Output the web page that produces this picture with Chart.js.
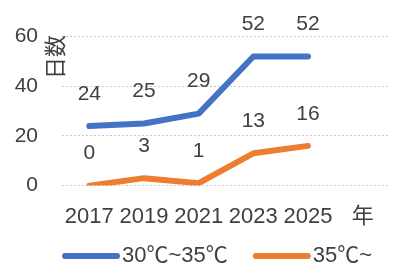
<!DOCTYPE html>
<html>
<head>
<meta charset="utf-8">
<script src="https://cdn.jsdelivr.net/npm/chart.js@4"></script>
<style>
  html, body { margin: 0; padding: 0; background: #fff; }
  #wrap { width: 393px; height: 278px; }
</style>
</head>
<body>
<div id="wrap"><canvas id="heatChart" width="393" height="278"></canvas></div>
<script>
// categories (last slot holds the axis unit)
const years = ['2017', '2019', '2021', '2023', '2025', '年'];
const days30to35 = [24, 25, 29, 52, 52, null];
const days35plus = [0, 3, 1, 13, 16, null];
const yTicks = [0, 20, 40, 60];
const seriesNames = ['30℃~35℃', '35℃~'];
const yTitle = '日数';

const textColor = '#404040';
const fontFamily = "'Liberation Sans', 'Noto Sans CJK JP', sans-serif";

// value labels above points, rotated y title, legend under the axis
const labelPlugin = {
    id: 'valueLabels',
    afterDatasetsDraw(chart) {
        const ctx = chart.ctx;
        ctx.save();
        ctx.fillStyle = textColor;
        ctx.font = '21px ' + fontFamily;
        ctx.textAlign = 'center';
        ctx.textBaseline = 'middle';
        chart.data.datasets.forEach((ds, i) => {
            const meta = chart.getDatasetMeta(i);
            meta.data.forEach((pt, j) => {
                if (ds.data[j] === null) return;
                ctx.fillText(String(ds.data[j]), pt.x, pt.y - 32);
            });
        });
        ctx.restore();

        // y axis title
        ctx.save();
        ctx.fillStyle = textColor;
        ctx.font = "22px 'Noto Sans CJK JP', sans-serif";
        ctx.textAlign = 'center';
        ctx.textBaseline = 'middle';
        ctx.translate(55, 57);
        ctx.rotate(-Math.PI / 2);
        ctx.fillText(yTitle, 0, 0);
        ctx.restore();

        // legend
        ctx.save();
        ctx.font = '22px ' + fontFamily;
        ctx.textBaseline = 'middle';
        ctx.lineCap = 'round';
        ctx.lineWidth = 6;
        let x = 65;
        const y = 256;
        chart.data.datasets.forEach(ds => {
            ctx.strokeStyle = ds.borderColor;
            ctx.beginPath();
            ctx.moveTo(x, y);
            ctx.lineTo(x + 52, y);
            ctx.stroke();
            ctx.fillStyle = textColor;
            ctx.fillText(ds.label, x + 57, y);
            x += 57 + ctx.measureText(ds.label).width + 28;
        });
        ctx.restore();
    }
};

new Chart(document.getElementById('heatChart').getContext('2d'), {
    type: 'line',
    data: {
        labels: years,
        datasets: [
            {
                label: seriesNames[0],
                data: days30to35,
                borderColor: '#4472C4',
                backgroundColor: '#4472C4',
                borderWidth: 6,
                pointRadius: 0,
                tension: 0,
                borderJoinStyle: 'round',
                borderCapStyle: 'round'
            },
            {
                label: seriesNames[1],
                data: days35plus,
                borderColor: '#ED7D31',
                backgroundColor: '#ED7D31',
                borderWidth: 6,
                pointRadius: 0,
                tension: 0,
                borderJoinStyle: 'round',
                borderCapStyle: 'round'
            }
        ]
    },
    options: {
        responsive: false,
        animation: false,
        layout: { padding: { top: 34, right: 3, left: 0, bottom: 30 } },
        plugins: {
            tooltip: { enabled: false },
            legend: { display: false }
        },
        scales: {
            x: {
                offset: true,
                grid: { display: false, drawTicks: false },
                border: { display: false },
                ticks: {
                    color: textColor,
                    font: { size: 22, family: fontFamily },
                    padding: 18,
                    maxRotation: 0,
                    autoSkip: false
                }
            },
            y: {
                min: 0,
                max: 60,
                afterFit(scale) { scale.width = 62; },
                afterBuildTicks(scale) { scale.ticks = yTicks.map(v => ({ value: v })); },
                grid: {
                    color: '#c8c8c8',
                    lineWidth: 1,
                    drawTicks: false
                },
                border: { display: false, dash: [2, 2] },
                ticks: {
                    color: textColor,
                    font: { size: 21, family: fontFamily },
                    padding: 24
                }
            }
        }
    },
    plugins: [labelPlugin]
});
</script>
</body>
</html>
